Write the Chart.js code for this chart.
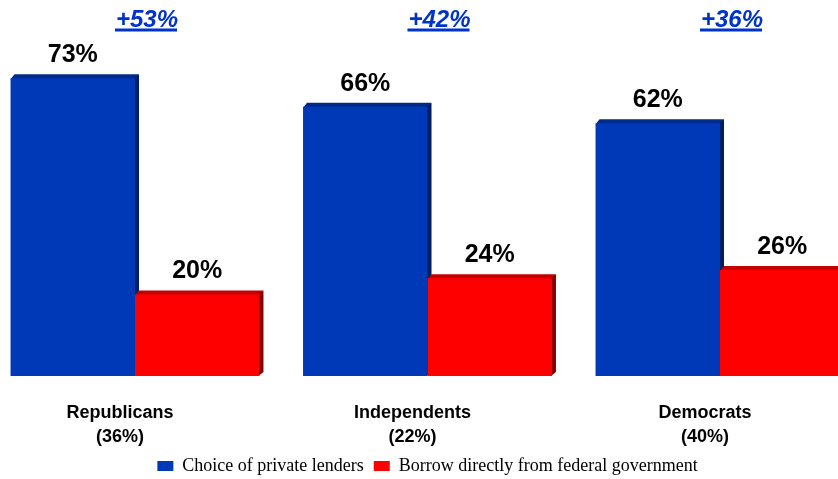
<!DOCTYPE html>
<html>
<head>
<meta charset="utf-8">
<script src="https://cdn.jsdelivr.net/npm/chart.js@4.4.0/dist/chart.umd.min.js"></script>
<style>
html, body { margin: 0; padding: 0; background: #fff; }
</style>
</head>
<body>
<canvas id="loanChart" width="838" height="479"></canvas>
<script>
const groupLabels = [['Republicans', '(36%)'], ['Independents', '(22%)'], ['Democrats', '(40%)']];
const privateLenders = [73, 66, 62];
const federalGov = [20, 24, 26];
const marginLabels = ['+53%', '+42%', '+36%'];

const sans = '"Liberation Sans", Arial, sans-serif';
const depth = 4;

// fake 3d: top face + right side drawn under the bar fronts, values on top
const bar3d = {
    id: 'bar3d',
    beforeDatasetsDraw(chart) {
        const ctx = chart.ctx;
        ctx.save();
        chart.data.datasets.forEach((ds, d) => {
            chart.getDatasetMeta(d).data.forEach(bar => {
                const left = bar.x - bar.width / 2;
                const right = bar.x + bar.width / 2;
                const top = bar.y;
                const base = bar.base;

                ctx.fillStyle = ds.topColor;
                ctx.beginPath();
                ctx.moveTo(left, top + 1);
                ctx.lineTo(left + depth, top - depth);
                ctx.lineTo(right + depth, top - depth);
                ctx.lineTo(right, top + 1);
                ctx.closePath();
                ctx.fill();

                ctx.fillStyle = ds.sideColor;
                ctx.beginPath();
                ctx.moveTo(right - 1, top);
                ctx.lineTo(right + depth, top - depth);
                ctx.lineTo(right + depth, base - depth);
                ctx.lineTo(right - 1, base);
                ctx.closePath();
                ctx.fill();
            });
        });
        ctx.restore();
    },
    afterDatasetsDraw(chart) {
        const ctx = chart.ctx;
        ctx.save();
        ctx.fillStyle = '#000';
        ctx.font = 'bold 25px ' + sans;
        ctx.textAlign = 'center';
        ctx.textBaseline = 'alphabetic';
        chart.data.datasets.forEach((ds, d) => {
            chart.getDatasetMeta(d).data.forEach((bar, i) => {
                ctx.fillText(ds.data[i] + '%', bar.x, bar.y - 16);
            });
        });
        ctx.restore();
    },
    afterDraw(chart) {
        // margin of private lenders over federal, above each group
        const ctx = chart.ctx;
        const xs = chart.scales.x;
        ctx.save();
        ctx.font = 'italic bold 24px ' + sans;
        ctx.fillStyle = '#0033CC';
        ctx.textAlign = 'center';
        ctx.textBaseline = 'alphabetic';
        marginLabels.forEach((m, i) => {
            const cx = xs.getPixelForValue(i) + 12;
            ctx.fillText(m, cx, 27);
            const w = ctx.measureText(m).width;
            ctx.fillRect(cx - w / 2 - 1, 28.5, w, 3);
        });
        ctx.restore();
    }
};

const ctx = document.getElementById('loanChart').getContext('2d');

const loanChart = new Chart(ctx, {
    type: 'bar',
    data: {
        labels: groupLabels,
        datasets: [{
            label: 'Choice of private lenders',
            data: privateLenders,
            backgroundColor: '#0039B8',
            topColor: '#002A8C',
            sideColor: '#001F63',
            borderWidth: 0,
            clip: false
        },
        {
            label: 'Borrow directly from federal government',
            data: federalGov,
            backgroundColor: '#FF0000',
            topColor: '#C40000',
            sideColor: '#820000',
            borderWidth: 0,
            clip: false
        }
        ]
    },
    options: {
        responsive: false,
        animation: false,
        layout: {
            padding: { top: 9, left: 135, right: 118, bottom: -6 }
        },
        datasets: {
            bar: {
                categoryPercentage: 0.851,
                barPercentage: 1
            }
        },
        scales: {
            x: {
                offset: false,
                grid: { display: false, drawTicks: false },
                border: { display: false },
                ticks: {
                    color: '#000',
                    font: { family: sans, size: 18, weight: 'bold', lineHeight: 1.28 },
                    padding: 26,
                    labelOffset: -15,
                    maxRotation: 0,
                    autoSkip: false
                },
                afterFit(scale) {
                    scale.height = 71;
                }
            },
            y: {
                display: false,
                min: 0,
                max: 90
            }
        },
        plugins: {
            legend: {
                display: true,
                position: 'bottom',
                labels: {
                    boxWidth: 16,
                    boxHeight: 10,
                    padding: 10,
                    color: '#000',
                    font: { family: '"Liberation Serif", "Times New Roman", serif', size: 18 }
                }
            },
            tooltip: {
                enabled: false
            }
        }
    },
    plugins: [bar3d]
});
</script>
</body>
</html>
